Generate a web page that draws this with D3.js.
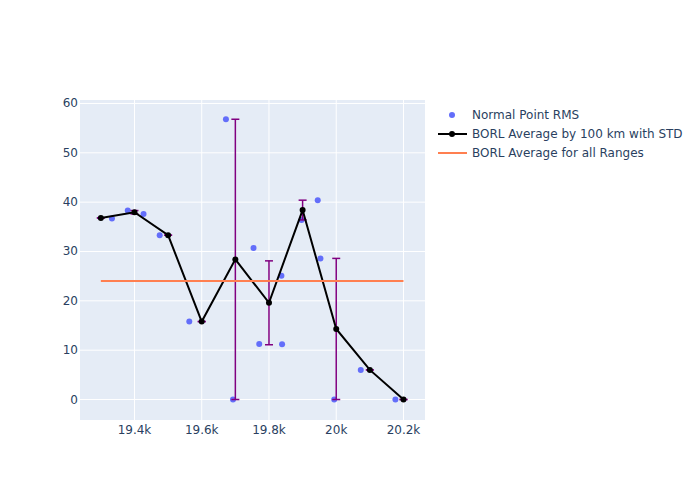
<!DOCTYPE html>
<html><head><meta charset="utf-8">
<script src="https://cdn.jsdelivr.net/npm/d3@7"></script>
<style>body{margin:0;background:#fff}</style>
</head><body>
<svg id="c" width="700" height="500"></svg>
<script>
// Data
const pointX = [19333,19380,19427,19475,19563,19672,19693,19754,19771,19837,19839,19897,19945,19953,19994,20073,20176];
const pointY = [36.7,38.3,37.6,33.3,15.8,56.8,0,30.7,11.25,25.1,11.2,36.4,40.4,28.6,0,6.0,0];
const avgX = [19300,19400,19500,19600,19700,19800,19900,20000,20100,20200];
const avgY = [36.8,37.95,33.3,15.8,28.4,19.6,38.4,14.3,6.0,0];
const avgStd = [0,0.35,0,0,28.4,8.5,2.0,14.3,0,0];
const overallAvg = 24.0;
const xTicks = [19400,19600,19800,20000,20200];
const xTickLabels = ["19.4k","19.6k","19.8k","20k","20.2k"];
const yTicks = [0,10,20,30,40,50,60];
const legendLabels = ["Normal Point RMS","BORL Average by 100 km with STD","BORL Average for all Ranges"];

const svg = d3.select("#c");
const L=80,R=425,T=100,B=420;
const x = d3.scaleLinear().domain([19238,20264]).range([L,R]);
const y = d3.scaleLinear().domain([-4.15,60.7]).range([B,T]);
const font = '"DejaVu Sans", verdana, arial, sans-serif';
const tc = "#2a3f5f";

svg.append("rect").attr("x",L).attr("y",T).attr("width",R-L).attr("height",B-T).attr("fill","#E5ECF6");
const g = svg.append("g");
g.selectAll(".gx").data(xTicks).join("line").attr("x1",d=>x(d)).attr("x2",d=>x(d)).attr("y1",T).attr("y2",B).attr("stroke","#fff").attr("stroke-width",1);
g.selectAll(".gy").data(yTicks).join("line").attr("y1",d=>y(d)).attr("y2",d=>y(d)).attr("x1",L).attr("x2",R).attr("stroke","#fff").attr("stroke-width",1);

// axis labels
svg.selectAll(".xt").data(xTicks).join("text").attr("x",d=>x(d)).attr("y",B+14).attr("text-anchor","middle")
  .attr("font-family",font).attr("font-size",12).attr("fill",tc).text((d,i)=>xTickLabels[i]);
svg.selectAll(".yt").data(yTicks).join("text").attr("x",L-2).attr("y",d=>y(d)+4).attr("text-anchor","end")
  .attr("font-family",font).attr("font-size",12).attr("fill",tc).text(d=>d);

svg.append("defs").append("clipPath").attr("id","cp").append("rect").attr("x",L).attr("y",T).attr("width",R-L).attr("height",B-T);
const plot = svg.append("g").attr("clip-path","url(#cp)");

// scatter points
plot.selectAll(".pt").data(pointX).join("circle").attr("cx",d=>x(d)).attr("cy",(d,i)=>y(pointY[i])).attr("r",3).attr("fill","#636efa");

// error bars
const eb = plot.append("g").attr("stroke","#800080").attr("stroke-width",1.5);
avgX.forEach((xv,i)=>{
  const lo=y(avgY[i]-avgStd[i]), hi=y(avgY[i]+avgStd[i]), cx=x(xv);
  eb.append("line").attr("x1",cx).attr("x2",cx).attr("y1",lo).attr("y2",hi);
  eb.append("line").attr("x1",cx-4).attr("x2",cx+4).attr("y1",lo).attr("y2",lo);
  eb.append("line").attr("x1",cx-4).attr("x2",cx+4).attr("y1",hi).attr("y2",hi);
});
// avg line
const line = d3.line().x((d,i)=>x(avgX[i])).y((d,i)=>y(avgY[i]));
plot.append("path").datum(avgX).attr("d",line).attr("fill","none").attr("stroke","#000").attr("stroke-width",2);
plot.selectAll(".am").data(avgX).join("circle").attr("cx",d=>x(d)).attr("cy",(d,i)=>y(avgY[i])).attr("r",3).attr("fill","#000");

// overall avg
plot.append("line").attr("x1",x(avgX[0])).attr("x2",x(avgX[avgX.length-1])).attr("y1",y(overallAvg)).attr("y2",y(overallAvg))
  .attr("stroke","#FF7F50").attr("stroke-width",2);

// legend
const lg = svg.append("g");
const ly = [115,134,153];
lg.append("circle").attr("cx",452).attr("cy",ly[0]).attr("r",3).attr("fill","#636efa");
lg.append("line").attr("x1",438).attr("x2",467).attr("y1",ly[1]).attr("y2",ly[1]).attr("stroke","#000").attr("stroke-width",2);
lg.append("circle").attr("cx",452).attr("cy",ly[1]).attr("r",3).attr("fill","#000");
lg.append("line").attr("x1",438).attr("x2",467).attr("y1",ly[2]).attr("y2",ly[2]).attr("stroke","#FF7F50").attr("stroke-width",2);
lg.selectAll(".lt").data(legendLabels).join("text").attr("x",472).attr("y",(d,i)=>ly[i]+4)
  .attr("font-family",font).attr("font-size",12).attr("fill",tc).text(d=>d);
</script>
</body></html>
